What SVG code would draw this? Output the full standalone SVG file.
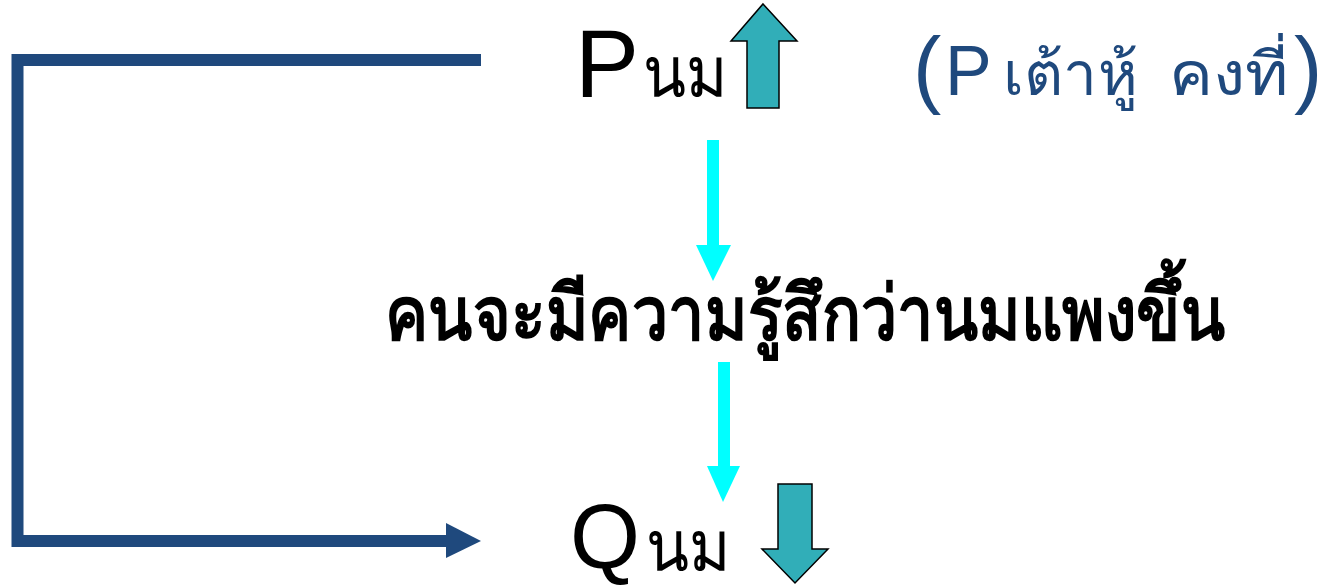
<svg xmlns="http://www.w3.org/2000/svg" width="1333" height="585" viewBox="0 0 1333 585">
<style>
.lat{font-family:"Liberation Sans",Arial,sans-serif;fill:#000}
.th{font-family:"DejaVu Sans","Liberation Sans",sans-serif;fill:#000}
.blue{fill:#1F497D}
.teal{fill:#31AEB8;stroke:#000;stroke-width:1.5}
.cyan{fill:#00FFFF}
</style>
<g id="connectors">
<path d="M481,60 H17.5 V541 H448" fill="none" stroke="#1F497D" stroke-width="12"/>
<polygon points="446,523 481,541 446,558" fill="#1F497D"/>
<rect class="cyan" x="707" y="140" width="12" height="106"/>
<polygon class="cyan" points="696,245 731,245 713,281"/>
<rect class="cyan" x="718" y="362" width="12" height="105"/>
<polygon class="cyan" points="707,466 740,466 723,502"/>
</g>
<g id="p-milk">
<text class="lat" x="575" y="97" font-size="96">P</text>
<text class="th" x="643" y="97" font-size="72" textLength="84" lengthAdjust="spacingAndGlyphs">นม</text>
<polygon class="teal" points="763,4 797,41 779,41 779,108 747,108 747,41 731,41"/>
</g>
<g id="p-tofu">
<text class="lat blue" x="913" y="97" font-size="85">(</text>
<text class="lat blue" x="945" y="95" font-size="70">P</text>
<text class="th blue" x="1003" y="95" font-size="60" textLength="135" lengthAdjust="spacingAndGlyphs">เต้าหู้</text>
<text class="th blue" x="1169" y="95" font-size="60" textLength="120" lengthAdjust="spacingAndGlyphs">คงที่</text>
<text class="lat blue" x="1294" y="97" font-size="85">)</text>
</g>
<g id="feel">
<text class="th" x="385" y="340" font-size="76" font-weight="bold" textLength="840" lengthAdjust="spacingAndGlyphs">คนจะมีความรู้สึกว่านมแพงขึ้น</text>
</g>
<g id="q-milk">
<text class="lat" x="570" y="568" font-size="90">Q</text>
<text class="th" x="646" y="571" font-size="72" textLength="84" lengthAdjust="spacingAndGlyphs">นม</text>
<polygon class="teal" points="778,484 812,484 812,549 828,549 795,583 762,549 778,549"/>
</g>
</svg>
